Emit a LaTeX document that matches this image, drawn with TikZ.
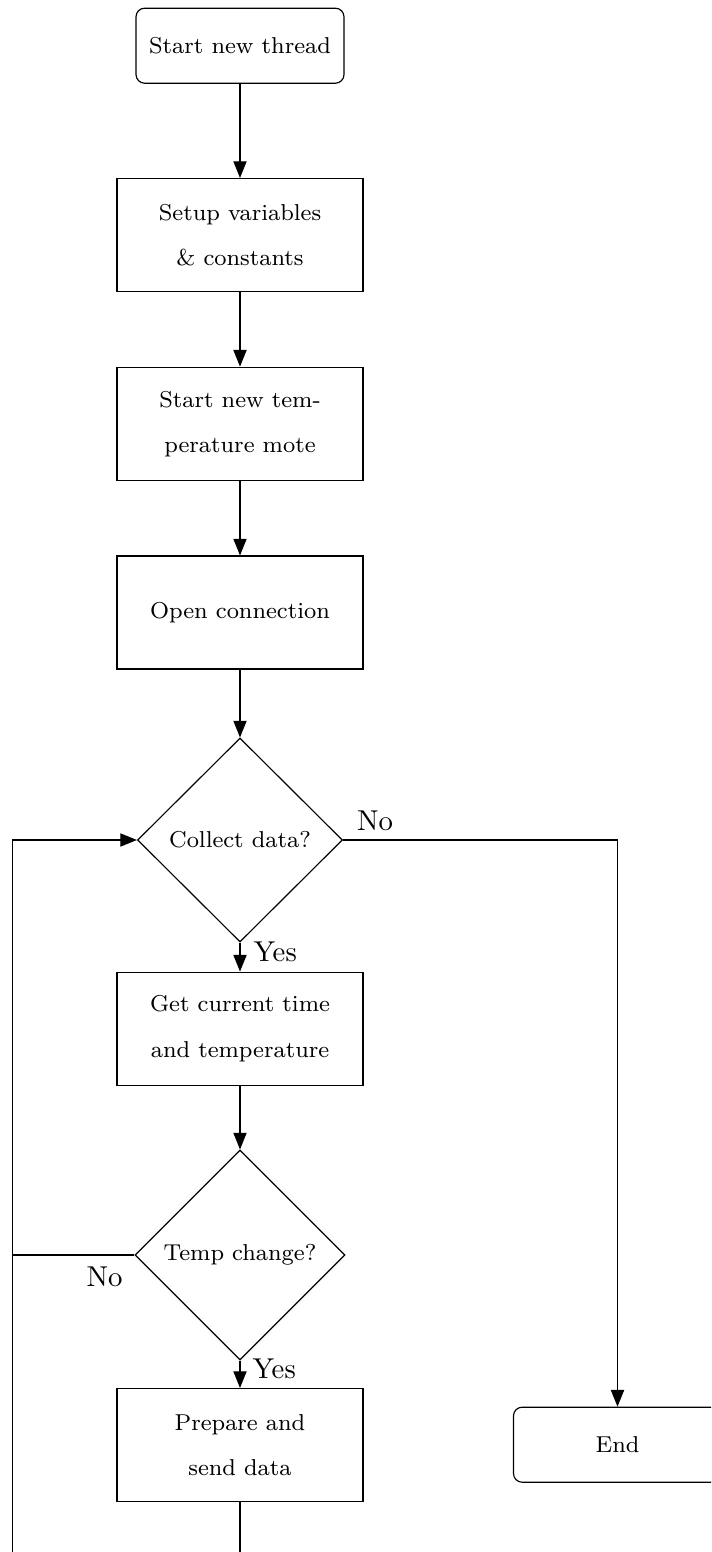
\documentclass[tikz,border=0pt]{standalone}
\usetikzlibrary{shapes.geometric,arrows.meta}
\newlength\pxu
\setlength\pxu{0.348pt}
\begin{document}
\begin{tikzpicture}[x=0.348pt,y=-0.348pt,line width=0.4pt,
  terminal/.style={draw, rounded corners=3pt, minimum width=208\pxu,
    minimum height=75\pxu, inner sep=0pt, font=\footnotesize},
  process/.style={draw, minimum width=246\pxu, minimum height=113\pxu,
    inner sep=0pt, align=center, font=\footnotesize},
  decision/.style={draw, diamond, aspect=1, inner sep=0pt, font=\footnotesize},
  flow/.style={-{Triangle[length=5.8pt,width=4.6pt]}},
  lbl/.style={inner sep=0pt, font=\normalsize}]
\clip (0,0) rectangle (711,1552);

% main column
\node[terminal] (start) at (240,45.7) {Start new thread};
\node[process] (setup) at (240,235) {Setup variables\\[6.2pt]{\&} constants};
\node[process] (mote) at (240,423.7) {Start new tem-\\[6.2pt]perature mote};
\node[process] (open) at (240,612.5) {Open connection};
\node[decision, minimum width=205\pxu, minimum height=204\pxu] (collect) at (240,840) {Collect data?};
\node[process] (get) at (240,1028.6) {Get current time\\[6.2pt]and temperature};
\node[decision, minimum width=210\pxu, minimum height=210\pxu] (temp) at (240,1255) {Temp change?};
\node[process] (prepare) at (240,1445) {Prepare and\\[6.2pt]send data};
\node[terminal] (end) at (617.5,1444.7) {End};

% branch labels
\node[lbl, anchor=base west] (yes1) at (253,961.5) {Yes};
\node[lbl, anchor=base west] (yes2) at (252,1378.3) {Yes};
\node[lbl, anchor=base west] (no1) at (356.5,830.5) {No};
\node[lbl, anchor=base west] (no2) at (86,1286.5) {No};

% loop-back corners below the last step
\coordinate (loopbr) at (240,1600);
\coordinate (loopbl) at (12.7,1600);

% connectors
\draw[flow] (start) -- (setup);
\draw[flow] (setup) -- (mote);
\draw[flow] (mote) -- (open);
\draw[flow] (open) -- (collect);
\draw[flow] (collect) -- (get);
\draw[flow] (get) -- (temp);
\draw[flow] (temp) -- (prepare);
\draw[flow] (collect.east) -| (end.north);
\draw[flow] (prepare.south) -- (loopbr) -- (loopbl) |- (collect.west);
\draw (temp.west) -- (temp.west -| loopbl);
\end{tikzpicture}
\end{document}
